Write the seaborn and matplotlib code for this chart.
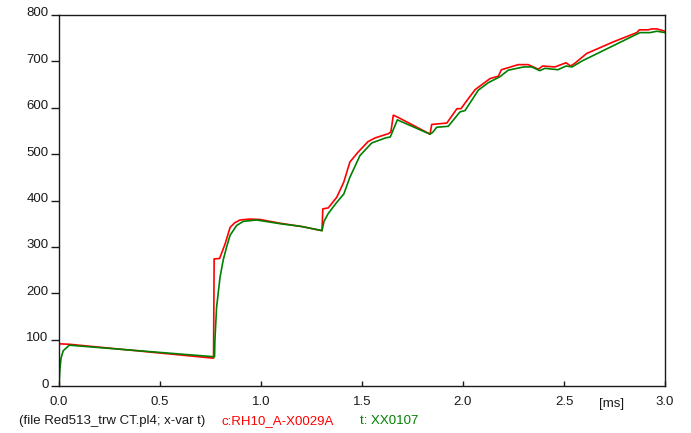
import matplotlib
matplotlib.use("Agg")
import matplotlib.pyplot as plt
import matplotlib.transforms as mtransforms
import seaborn as sns
import pandas as pd

# ---- data ----
t_red = [0.0, 0.05, 0.765, 0.768, 0.795, 0.822, 0.847, 0.870, 0.896, 0.946, 0.995,
         1.094, 1.200, 1.302, 1.306, 1.333, 1.375, 1.410, 1.440, 1.480, 1.530, 1.565,
         1.630, 1.643, 1.655, 1.680, 1.837, 1.845, 1.920, 1.970, 1.990, 2.020, 2.060,
         2.134, 2.175, 2.190, 2.274, 2.323, 2.373, 2.394, 2.455, 2.510, 2.533, 2.554,
         2.612, 2.744, 2.860, 2.873, 2.917, 2.934, 2.960, 3.000]
v_red = [91, 90, 60, 274, 275, 306, 342, 352, 358, 360, 359,
         351, 344, 335, 382, 384, 407, 440, 483, 504, 527, 535,
         544, 548, 584, 579, 543, 564, 567, 598, 598, 616, 639,
         663, 668, 682, 693, 693, 683, 690, 688, 697, 690, 696,
         717, 742, 762, 768, 768, 770, 770, 765]

t_grn = [0.0, 0.004, 0.010, 0.021, 0.051, 0.770, 0.772, 0.780, 0.797, 0.813, 0.830,
         0.847, 0.879, 0.912, 0.978, 1.094, 1.200, 1.302, 1.312, 1.333, 1.375, 1.410,
         1.440, 1.490, 1.548, 1.617, 1.640, 1.675, 1.690, 1.837, 1.850, 1.870, 1.927,
         1.985, 2.010, 2.076, 2.125, 2.183, 2.224, 2.300, 2.340, 2.380, 2.406, 2.470,
         2.510, 2.540, 2.590, 2.876, 2.926, 2.960, 3.000]
v_grn = [0, 35, 60, 76, 88, 63, 100, 169, 234, 272, 300,
         325, 346, 355, 358, 350, 344, 335, 355, 372, 396, 414,
         450, 497, 524, 535, 537, 574, 571, 543, 547, 558, 560,
         591, 594, 638, 654, 667, 681, 688, 688, 680, 685, 682,
         690, 688, 701, 762, 762, 765, 762]

x_ticks = [0.0, 0.5, 1.0, 1.5, 2.0, 2.5, 3.0]
x_ticklabels = ["0.0", "0.5", "1.0", "1.5", "2.0", "2.5", "3.0"]
y_ticks = [0, 100, 200, 300, 400, 500, 600, 700, 800]

x_unit = "[ms]"
footer_file = "(file Red513_trw CT.pl4; x-var t)"
footer_red = "c:RH10_A-X0029A"
footer_green = "t: XX0107"

# ---- style ----
sns.set_style("ticks")
plt.rcParams["font.family"] = ["Liberation Sans", "DejaVu Sans"]
FS = 9.5
TXT = "#1a1a1a"

fig = plt.figure(figsize=(6.91, 4.33), dpi=100)
ax = fig.add_axes([59 / 691, 1 - 386 / 433, (665 - 59) / 691, (386 - 15) / 433])

df_red = pd.DataFrame({"t": t_red, "v": v_red})
df_grn = pd.DataFrame({"t": t_grn, "v": v_grn})

sns.lineplot(data=df_red, x="t", y="v", ax=ax, color="#ff0000", lw=1.2,
             sort=False, estimator=None)
sns.lineplot(data=df_grn, x="t", y="v", ax=ax, color="#008000", lw=1.2,
             sort=False, estimator=None)

ax.set_xlim(0, 3.0)
ax.set_ylim(0, 800)
ax.set_xlabel("")
ax.set_ylabel("")
ax.set_xticks(x_ticks)
ax.set_xticklabels(x_ticklabels)
ax.set_yticks(y_ticks)
ax.set_yticklabels([str(v) for v in y_ticks])

for s in ax.spines.values():
    s.set_visible(True)
    s.set_color(TXT)
    s.set_linewidth(1.0)

ax.tick_params(axis="x", direction="in", length=3.5, width=1.0, pad=7,
               labelsize=FS, colors=TXT)
ax.tick_params(axis="y", direction="out", length=6, width=1.0, pad=1.5,
               labelsize=FS, colors=TXT)

# lift y labels slightly above their ticks
off = mtransforms.ScaledTranslation(0, 0.03, fig.dpi_scale_trans)
for lab in ax.get_yticklabels():
    lab.set_transform(lab.get_transform() + off)

fig.text(612 / 691, 1 - 404 / 433, x_unit, ha="center", va="center",
         fontsize=FS, color=TXT)
fig.text(19 / 691, 1 - 421 / 433, footer_file, ha="left", va="center",
         fontsize=FS, color=TXT)
fig.text(222 / 691, 1 - 421 / 433, footer_red, ha="left", va="center",
         fontsize=FS, color="#ff0000")
fig.text(360 / 691, 1 - 421 / 433, footer_green, ha="left", va="center",
         fontsize=FS, color="#008000")

fig.savefig("out.png", dpi=100, facecolor="white")
